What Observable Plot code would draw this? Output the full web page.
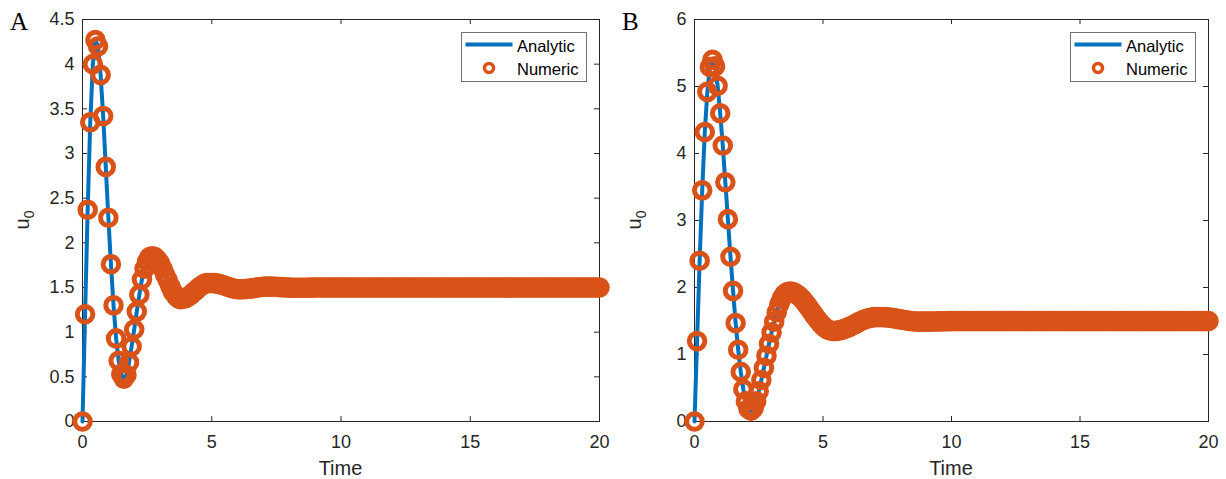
<!DOCTYPE html>
<html>
<head>
<meta charset="utf-8">
<script src="https://cdn.jsdelivr.net/npm/d3@7"></script>
<script src="https://cdn.jsdelivr.net/npm/@observablehq/plot@0.6"></script>
<style>
  html, body { margin: 0; padding: 0; background: #ffffff; }
  #wrap { position: relative; width: 1226px; height: 479px; overflow: hidden; }
  .panel { position: absolute; top: 0; }
  .panel svg { display: block; }
</style>
</head>
<body>
<div id="wrap"></div>
<script>
// ---------- data ----------
const time = [
  0,0.1,0.2,0.3,0.4,0.5,0.6,0.7,0.8,0.9,
  1,1.1,1.2,1.3,1.4,1.5,1.6,1.7,1.8,1.9,
  2,2.1,2.2,2.3,2.4,2.5,2.6,2.7,2.8,2.9,
  3,3.1,3.2,3.3,3.4,3.5,3.6,3.7,3.8,3.9,
  4,4.1,4.2,4.3,4.4,4.5,4.6,4.7,4.8,4.9,
  5,5.1,5.2,5.3,5.4,5.5,5.6,5.7,5.8,5.9,
  6,6.1,6.2,6.3,6.4,6.5,6.6,6.7,6.8,6.9,
  7,7.1,7.2,7.3,7.4,7.5,7.6,7.7,7.8,7.9,
  8,8.1,8.2,8.3,8.4,8.5,8.6,8.7,8.8,8.9,
  9,9.1,9.2,9.3,9.4,9.5,9.6,9.7,9.8,9.9,
  10,10.1,10.2,10.3,10.4,10.5,10.6,10.7,10.8,10.9,
  11,11.1,11.2,11.3,11.4,11.5,11.6,11.7,11.8,11.9,
  12,12.1,12.2,12.3,12.4,12.5,12.6,12.7,12.8,12.9,
  13,13.1,13.2,13.3,13.4,13.5,13.6,13.7,13.8,13.9,
  14,14.1,14.2,14.3,14.4,14.5,14.6,14.7,14.8,14.9,
  15,15.1,15.2,15.3,15.4,15.5,15.6,15.7,15.8,15.9,
  16,16.1,16.2,16.3,16.4,16.5,16.6,16.7,16.8,16.9,
  17,17.1,17.2,17.3,17.4,17.5,17.6,17.7,17.8,17.9,
  18,18.1,18.2,18.3,18.4,18.5,18.6,18.7,18.8,18.9,
  19,19.1,19.2,19.3,19.4,19.5,19.6,19.7,19.8,19.9,
  20
];

// Panel A: u0 vs time
const u0A = [
  0,1.20,2.37,3.35,4.00,4.27,4.20,3.88,3.42,2.85,
  2.28,1.76,1.30,0.93,0.68,0.53,0.48,0.52,0.66,0.84,
  1.03,1.23,1.42,1.59,1.71,1.79,1.84,1.85,1.84,1.81,
  1.77,1.71,1.64,1.58,1.51,1.45,1.41,1.38,1.37,1.374,
  1.384,1.40,1.42,1.45,1.47,1.50,1.52,1.54,1.55,1.55,
  1.55,1.549,1.544,1.538,1.53,1.52,1.51,1.50,1.492,1.486,
  1.481,1.48,1.48,1.483,1.485,1.489,1.493,1.497,1.501,1.505,
  1.508,1.51,1.51,1.51,1.509,1.508,1.506,1.504,1.502,1.50,
  1.499,1.498,1.497,1.497,1.497,1.497,1.498,1.498,1.499,1.499,
  1.5,1.5,1.5,1.5,1.5,1.5,1.5,1.5,1.5,1.5,
  1.5,1.5,1.5,1.5,1.5,1.5,1.5,1.5,1.5,1.5,
  1.5,1.5,1.5,1.5,1.5,1.5,1.5,1.5,1.5,1.5,
  1.5,1.5,1.5,1.5,1.5,1.5,1.5,1.5,1.5,1.5,
  1.5,1.5,1.5,1.5,1.5,1.5,1.5,1.5,1.5,1.5,
  1.5,1.5,1.5,1.5,1.5,1.5,1.5,1.5,1.5,1.5,
  1.5,1.5,1.5,1.5,1.5,1.5,1.5,1.5,1.5,1.5,
  1.5,1.5,1.5,1.5,1.5,1.5,1.5,1.5,1.5,1.5,
  1.5,1.5,1.5,1.5,1.5,1.5,1.5,1.5,1.5,1.5,
  1.5,1.5,1.5,1.5,1.5,1.5,1.5,1.5,1.5,1.5,
  1.5,1.5,1.5,1.5,1.5,1.5,1.5,1.5,1.5,1.5,
  1.5
];

// Panel B: u0 vs time
const u0B = [
  0,1.20,2.40,3.45,4.32,4.92,5.29,5.40,5.30,5.01,
  4.60,4.12,3.57,3.02,2.46,1.95,1.47,1.07,0.74,0.48,
  0.30,0.19,0.16,0.20,0.30,0.45,0.62,0.80,0.98,1.16,
  1.33,1.49,1.63,1.75,1.84,1.90,1.93,1.94,1.935,1.92,
  1.896,1.863,1.823,1.776,1.726,1.672,1.618,1.564,1.514,1.467,
  1.427,1.394,1.37,1.355,1.35,1.352,1.357,1.366,1.378,1.392,
  1.408,1.426,1.445,1.465,1.484,1.503,1.52,1.534,1.545,1.553,
  1.558,1.56,1.56,1.559,1.557,1.554,1.55,1.545,1.539,1.532,
  1.525,1.518,1.511,1.505,1.50,1.496,1.493,1.491,1.49,1.49,
  1.49,1.49,1.491,1.492,1.493,1.494,1.495,1.496,1.497,1.498,
  1.499,1.5,1.5,1.5,1.5,1.5,1.5,1.5,1.5,1.5,
  1.5,1.5,1.5,1.5,1.5,1.5,1.5,1.5,1.5,1.5,
  1.5,1.5,1.5,1.5,1.5,1.5,1.5,1.5,1.5,1.5,
  1.5,1.5,1.5,1.5,1.5,1.5,1.5,1.5,1.5,1.5,
  1.5,1.5,1.5,1.5,1.5,1.5,1.5,1.5,1.5,1.5,
  1.5,1.5,1.5,1.5,1.5,1.5,1.5,1.5,1.5,1.5,
  1.5,1.5,1.5,1.5,1.5,1.5,1.5,1.5,1.5,1.5,
  1.5,1.5,1.5,1.5,1.5,1.5,1.5,1.5,1.5,1.5,
  1.5,1.5,1.5,1.5,1.5,1.5,1.5,1.5,1.5,1.5,
  1.5,1.5,1.5,1.5,1.5,1.5,1.5,1.5,1.5,1.5,
  1.5
];

const xTicks = [0, 5, 10, 15, 20];
const yTicksA = [0, 0.5, 1, 1.5, 2, 2.5, 3, 3.5, 4, 4.5];
const yTicksB = [0, 1, 2, 3, 4, 5, 6];
const seriesNames = ["Analytic", "Numeric"];
const panelLetters = ["A", "B"];
const xLabel = "Time";
const yLabelMain = "u";
const yLabelSub = "0";

// ---------- drawing ----------
const BLUE = "#0072BD", ORANGE = "#D95319", INK = "#262626";
const SANS = "'Liberation Sans', Arial, Helvetica, sans-serif";
const SERIF = "'Liberation Serif', 'Times New Roman', serif";

function drawPanel({values, yMax, yTicks, letter, left, marginLeft, marginRight}) {
  const W = 613, H = 479, mt = 19, mb = 58;
  const innerW = W - marginLeft - marginRight;
  const innerH = H - mt - mb;
  const data = time.map((t, i) => ({t, v: values[i]}));

  const svg = Plot.plot({
    width: W, height: H,
    marginTop: mt, marginBottom: mb, marginLeft, marginRight,
    style: {fontFamily: SANS, fontSize: "18px", color: INK, background: "white", overflow: "visible"},
    x: {domain: [0, 20]},
    y: {domain: [0, yMax]},
    marks: [
      Plot.frame({stroke: INK, strokeWidth: 1}),
      Plot.tickX(xTicks, {x: d => d, insetTop: innerH - 5, stroke: INK}),
      Plot.tickX(xTicks, {x: d => d, insetBottom: innerH - 5, stroke: INK}),
      Plot.tickY(yTicks, {y: d => d, insetRight: innerW - 5, stroke: INK}),
      Plot.tickY(yTicks, {y: d => d, insetLeft: innerW - 5, stroke: INK}),
      Plot.axisX({ticks: xTicks, tickSize: 0, tickPadding: 14, label: null, fontSize: 18, tickFormat: d => String(d)}),
      Plot.axisY({ticks: yTicks, tickSize: 0, tickPadding: 8, label: null, fontSize: 18, tickFormat: d => String(d)}),
      Plot.line(data, {x: "t", y: "v", stroke: BLUE, strokeWidth: 4}),
      Plot.dot(data, {x: "t", y: "v", r: 7.8, stroke: ORANGE, strokeWidth: 5, fill: "none"})
    ]
  });

  const s = d3.select(svg);
  // x label
  s.append("text")
    .attr("x", marginLeft + innerW / 2).attr("y", 475)
    .attr("text-anchor", "middle").attr("font-size", 20).attr("fill", INK)
    .attr("font-family", SANS).text(xLabel);
  // y label with subscript
  const yl = s.append("text")
    .attr("transform", `translate(${marginLeft - 53},${mt + innerH / 2}) rotate(-90)`)
    .attr("text-anchor", "middle").attr("font-size", 20).attr("fill", INK)
    .attr("font-family", SANS);
  yl.append("tspan").text(yLabelMain);
  yl.append("tspan").attr("font-size", 14).attr("dy", 5).text(yLabelSub);
  // panel letter
  s.append("text")
    .attr("x", left === 0 ? 10 : 9).attr("y", 30)
    .attr("text-anchor", "start")
    .attr("font-family", SERIF).attr("font-size", 25).attr("fill", "#000")
    .text(letter);
  // legend
  const bx = W - marginRight - 13 - 125;
  const lg = s.append("g").attr("font-family", SANS).attr("font-size", 16.5)
    .attr("fill", "#000").attr("text-anchor", "start");
  lg.append("rect").attr("x", bx + 0.5).attr("y", 32.5).attr("width", 125).attr("height", 49)
    .attr("fill", "white").attr("stroke", "#707070").attr("stroke-width", 1);
  lg.append("line").attr("x1", bx + 4.5).attr("x2", bx + 51.5).attr("y1", 44.5).attr("y2", 44.5)
    .attr("stroke", BLUE).attr("stroke-width", 4);
  lg.append("circle").attr("cx", bx + 28).attr("cy", 68).attr("r", 4.5)
    .attr("fill", "none").attr("stroke", ORANGE).attr("stroke-width", 3.5);
  lg.append("text").attr("x", bx + 56).attr("y", 51.5).attr("text-anchor", "start").text(seriesNames[0]);
  lg.append("text").attr("x", bx + 56).attr("y", 75).attr("text-anchor", "start").text(seriesNames[1]);

  const div = document.createElement("div");
  div.className = "panel";
  div.style.left = left + "px";
  div.appendChild(svg);
  document.getElementById("wrap").appendChild(div);
}

drawPanel({values: u0A, yMax: 4.5, yTicks: yTicksA, letter: panelLetters[0], left: 0, marginLeft: 82, marginRight: 14});
drawPanel({values: u0B, yMax: 6, yTicks: yTicksB, letter: panelLetters[1], left: 613, marginLeft: 81, marginRight: 18});
</script>
</body>
</html>
